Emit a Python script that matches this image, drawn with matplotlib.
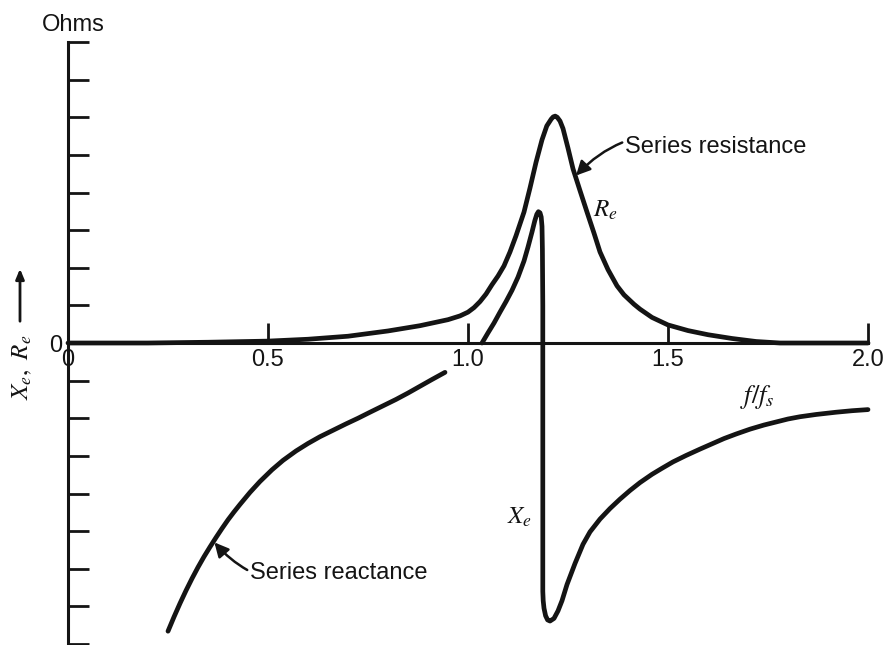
import matplotlib
matplotlib.use("Agg")
import matplotlib.pyplot as plt

plt.rcParams["font.family"] = ["Liberation Sans", "DejaVu Sans"]
plt.rcParams["mathtext.fontset"] = "stix"

# Series resistance R_e versus normalised frequency f/f_s
res_f = [0.00, 0.20, 0.35, 0.50, 0.60, 0.70, 0.80, 0.88, 0.95, 0.98, 1.00,
         1.015, 1.03, 1.045, 1.06, 1.075, 1.09, 1.105, 1.12, 1.14, 1.155,
         1.17, 1.185, 1.197, 1.208, 1.213, 1.218, 1.223, 1.23, 1.2375,
         1.25, 1.2625, 1.28, 1.2975, 1.315, 1.33, 1.35, 1.3725, 1.39,
         1.415, 1.43, 1.46, 1.50, 1.55, 1.60, 1.66, 1.72, 1.78, 2.00]
res_v = [0.00, 0.00, 0.02, 0.05, 0.10, 0.18, 0.32, 0.46, 0.62, 0.72, 0.82,
         0.94, 1.10, 1.30, 1.55, 1.78, 2.05, 2.42, 2.85, 3.48, 4.12,
         4.80, 5.40, 5.77, 5.95, 6.01, 6.03, 6.00, 5.90, 5.70,
         5.18, 4.63, 4.05, 3.48, 2.92, 2.42, 1.95, 1.52, 1.28,
         1.03, 0.90, 0.68, 0.48, 0.33, 0.22, 0.12, 0.04, 0.00, 0.00]

# Series reactance X_e, below resonance
reac_lo_f = [0.25, 0.265, 0.28, 0.295, 0.31, 0.325, 0.34, 0.355, 0.37,
             0.385, 0.40, 0.415, 0.43, 0.455, 0.48, 0.51, 0.5375, 0.57,
             0.60, 0.63, 0.6625, 0.695, 0.725, 0.755, 0.7875, 0.82, 0.85,
             0.88, 0.91, 0.9425]
reac_lo_v = [-7.66, -7.28, -6.92, -6.58, -6.26, -5.96, -5.68, -5.42, -5.17,
             -4.93, -4.70, -4.49, -4.29, -3.97, -3.68, -3.37, -3.12, -2.87,
             -2.67, -2.49, -2.32, -2.15, -2.00, -1.84, -1.67, -1.50, -1.33,
             -1.15, -0.97, -0.78]

# Series reactance X_e, through and above resonance
reac_hi_f = [1.035, 1.05, 1.065, 1.08, 1.095, 1.11, 1.125, 1.14, 1.15,
             1.16, 1.167, 1.172, 1.176, 1.18, 1.183, 1.185, 1.186, 1.187,
             1.187, 1.188, 1.19, 1.194, 1.199, 1.205, 1.215, 1.225, 1.235,
             1.2475, 1.2675, 1.2875, 1.305, 1.33, 1.355, 1.38, 1.405, 1.43,
             1.46, 1.485, 1.5125, 1.545, 1.58, 1.61, 1.64, 1.67, 1.705,
             1.74, 1.77, 1.80, 1.83, 1.87, 1.92, 1.96, 2.00]
reac_hi_v = [0.00, 0.27, 0.53, 0.82, 1.10, 1.40, 1.75, 2.18, 2.55,
             2.95, 3.25, 3.42, 3.49, 3.46, 3.35, 3.10, 2.50, 1.00,
             -6.60, -6.85, -7.05, -7.25, -7.36, -7.39, -7.32, -7.12, -6.85,
             -6.42, -5.86, -5.35, -5.02, -4.68, -4.40, -4.15, -3.92, -3.71,
             -3.49, -3.33, -3.16, -2.99, -2.82, -2.68, -2.54, -2.42, -2.29,
             -2.18, -2.10, -2.02, -1.96, -1.90, -1.84, -1.80, -1.77]

x_ticks = [0.0, 0.5, 1.0, 1.5, 2.0]
x_tick_labels = ["0", "0.5", "1.0", "1.5", "2.0"]
y_ticks = list(range(-8, 9))

W, H = 886, 645
fig = plt.figure(figsize=(W / 100, H / 100), dpi=100)
ax = fig.add_axes([68 / W, 1 / H, 800 / W, 602 / H])
ax.set_xlim(0, 2.0)
ax.set_ylim(-8, 8)

ink = "#141414"
curve_kw = dict(color=ink, lw=3.4, solid_capstyle="round",
                solid_joinstyle="round", clip_on=False, zorder=3)
ax.plot(res_f, res_v, **curve_kw)
ax.plot(reac_lo_f, reac_lo_v, **curve_kw)
ax.plot(reac_hi_f, reac_hi_v, **curve_kw)

# Axes drawn through the origin, ticks pointing into the plot
for side in ("top", "right"):
    ax.spines[side].set_visible(False)
ax.spines["bottom"].set_position(("data", 0))
for side in ("left", "bottom"):
    ax.spines[side].set_linewidth(2.2)
    ax.spines[side].set_color(ink)
ax.set_xticks(x_ticks)
ax.set_xticklabels(x_tick_labels)
ax.set_yticks(y_ticks)
ax.set_yticklabels(["0" if t == 0 else "" for t in y_ticks])
ax.tick_params(axis="x", direction="in", length=14.5, width=2.0,
               color=ink, labelsize=17, pad=4, labelcolor=ink)
ax.tick_params(axis="y", direction="in", length=15, width=2.0,
               color=ink, labelsize=17, pad=4, labelcolor=ink)
ax.patch.set_visible(False)

# Labels
fig.text(73 / W, 1 - 25 / H, "Ohms", ha="center", va="center",
         fontsize=17, color=ink)
fig.text(22 / W, 1 - 367 / H, r"$X_e,\ R_e$", rotation=90,
         ha="center", va="center", fontsize=18, color=ink)
fig.patches.append(matplotlib.patches.FancyArrowPatch(
    (20 / W, 1 - 324 / H), (20 / W, 1 - 266 / H),
    transform=fig.transFigure, arrowstyle="-|>,head_length=6,head_width=2.5",
    color=ink, lw=2.0))

ax.text(1.7225, -1.44, r"$f/f_s$", ha="center", va="center",
        fontsize=19, color=ink)
ax.text(1.3425, 3.54, r"$R_e$", ha="center", va="center",
        fontsize=18, color=ink)
ax.text(1.13, -4.63, r"$X_e$", ha="center", va="center",
        fontsize=18, color=ink)

arrow_kw = dict(arrowstyle="-|>,head_length=0.5,head_width=0.25",
                color=ink, lw=1.8, shrinkA=0, shrinkB=0)
ax.annotate("Series resistance", xy=(1.27, 4.45), xytext=(1.3925, 5.21),
            ha="left", va="center", fontsize=17, color=ink,
            arrowprops=dict(connectionstyle="arc3,rad=0.35", **arrow_kw))
ax.annotate("Series reactance", xy=(0.366, -5.3), xytext=(0.455, -6.12),
            ha="left", va="center", fontsize=17, color=ink,
            arrowprops=dict(connectionstyle="arc3,rad=-0.35", **arrow_kw))

fig.savefig("out.png", dpi=100, facecolor="white")
